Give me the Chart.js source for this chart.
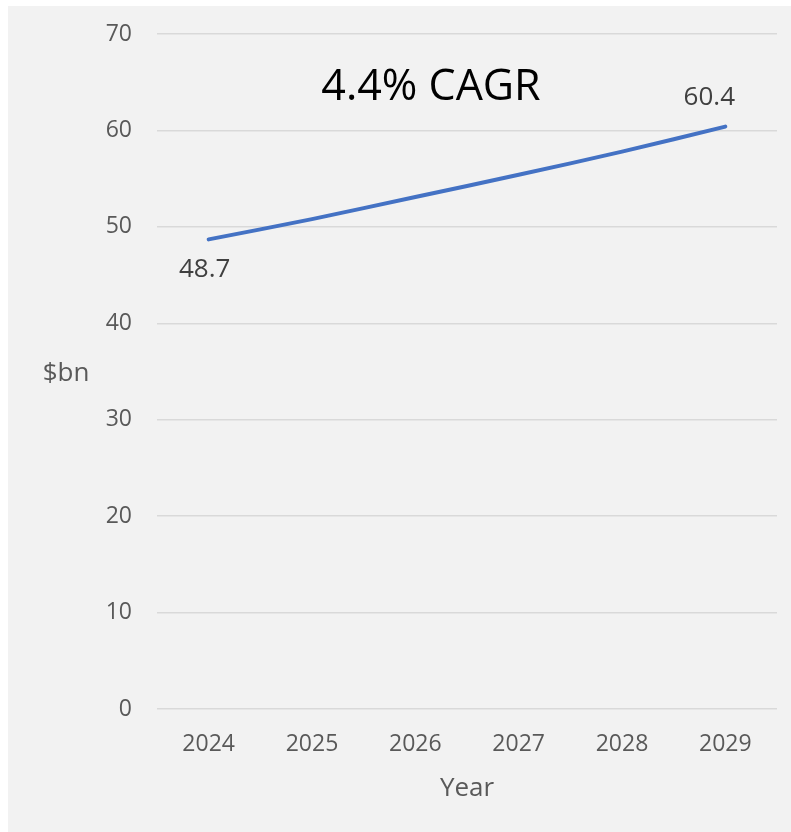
<!DOCTYPE html>
<html>
<head>
<meta charset="utf-8">
<script src="https://cdn.jsdelivr.net/npm/chart.js@4"></script>
<style>
  html, body { margin: 0; padding: 0; background: #ffffff; }
  #wrap { position: absolute; left: 8px; top: 6px; width: 783px; height: 826px; background: #f2f2f2; }
</style>
</head>
<body>
<div id="wrap"><canvas id="grafico"></canvas></div>
<script>
// ===== DADOS =====
const anos = ['2024', '2025', '2026', '2027', '2028', '2029'];
const mercado = [48.7, 50.8, 53.1, 55.4, 57.8, 60.4];
const titulo = '4.4% CAGR';
const eixoY = '$bn';
const eixoX = 'Year';

const FONTE = '"Open Sans", "Segoe UI", sans-serif';
const CINZA = '#595959';

// ===== TEXTOS EXTRAS =====
const textosPlugin = {
  id: 'textos',
  afterDatasetsDraw(chart) {
    const { ctx, scales: { x, y } } = chart;
    ctx.save();
    ctx.textAlign = 'center';
    ctx.textBaseline = 'middle';

    // titulo CAGR
    ctx.fillStyle = '#000000';
    ctx.font = '43px ' + FONTE;
    ctx.fillText(titulo, 423, 82);

    // rotulos do primeiro e ultimo ponto
    ctx.fillStyle = '#404040';
    ctx.font = '26px ' + FONTE;
    const ult = mercado.length - 1;
    ctx.fillText(mercado[0].toFixed(1), x.getPixelForValue(0) - 4, y.getPixelForValue(mercado[0]) + 30);
    ctx.fillText(mercado[ult].toFixed(1), x.getPixelForValue(ult) - 16, y.getPixelForValue(mercado[ult]) - 29);

    // titulos dos eixos
    ctx.fillStyle = CINZA;
    ctx.font = '26px ' + FONTE;
    ctx.fillText(eixoY, 58, 368);
    ctx.fillText(eixoX, 459, 783);
    ctx.restore();
  }
};

// ===== GRAFICO =====
new Chart(document.getElementById('grafico'), {
  type: 'line',
  data: {
    labels: anos,
    datasets: [{
      data: mercado,
      borderColor: '#4472c4',
      borderWidth: 4,
      borderCapStyle: 'round',
      pointRadius: 0,
      tension: 0.3,
      fill: false
    }]
  },
  options: {
    responsive: true,
    maintainAspectRatio: false,
    animation: false,
    layout: { padding: { top: 28, right: 14, left: 0, bottom: 0 } },
    plugins: { legend: { display: false }, tooltip: { enabled: false } },
    scales: {
      x: {
        offset: true,
        grid: { display: false, drawTicks: false },
        border: { display: false },
        ticks: { color: CINZA, font: { family: FONTE, size: 23 }, padding: 22, maxRotation: 0 },
        afterFit: s => { s.height = 123; s.paddingLeft = 0; s.paddingRight = 0; }
      },
      y: {
        min: 0,
        max: 70,
        grid: { color: '#d9d9d9', lineWidth: 1.5, drawTicks: false },
        border: { display: false },
        ticks: { stepSize: 10, color: CINZA, font: { family: FONTE, size: 23 }, padding: 25 },
        afterFit: s => { s.width = 149; s.paddingTop = 0; s.paddingBottom = 0; }
      }
    }
  },
  plugins: [textosPlugin]
});
</script>
</body>
</html>
